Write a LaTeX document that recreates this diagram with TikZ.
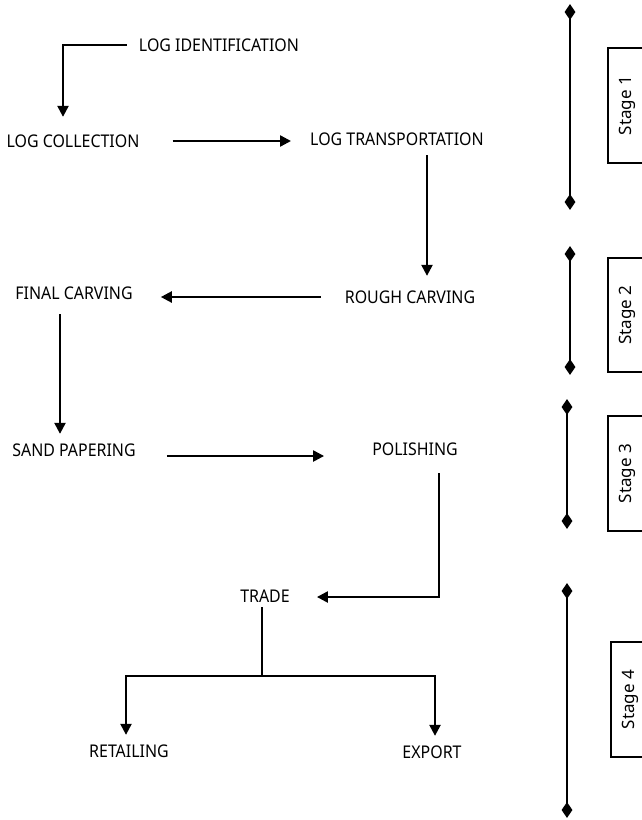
\documentclass[tikz,border=0pt]{standalone}
\usepackage{fontspec}
\setmainfont{Noto Sans}[FakeStretch=0.91]
\newfontfamily\stagefont{Noto Sans}
\usetikzlibrary{arrows.meta,shapes.geometric}

\tikzset{
  step label/.style={inner sep=0pt, text height=12.7pt, text depth=0pt,
    font=\fontsize{17.5}{17.5}\selectfont},
  flow/.style={line width=2.3pt, -{Triangle[length=11pt,width=11pt]}},
  plain link/.style={line width=2.3pt},
  bar end/.style={diamond, fill=black, inner sep=0pt,
    minimum width=11pt, minimum height=16pt},
  bar/.style={line width=2.3pt},
  stage box/.style={draw, line width=1.8pt, rotate=90, inner sep=0pt,
    minimum height=38pt, font=\stagefont\fontsize{17}{17}\selectfont}
}

\begin{document}
\begin{tikzpicture}[x=1pt, y=-1pt]
  \useasboundingbox (0,0) rectangle (642,820);

  % process steps
  \node[step label] (ident)  at (219,45)  {LOG IDENTIFICATION};
  \node[step label] (coll)   at (73,141)  {LOG COLLECTION};
  \node[step label] (trans)  at (397,139) {LOG TRANSPORTATION};
  \node[step label] (rough)  at (410,297) {ROUGH CARVING};
  \node[step label] (final)  at (74,293)  {FINAL CARVING};
  \node[step label] (sand)   at (74,450)  {SAND PAPERING};
  \node[step label] (polish) at (415,449) {POLISHING};
  \node[step label] (trade)  at (265,596) {TRADE};
  \node[step label] (retail) at (129,751) {RETAILING};
  \node[step label] (export) at (432,752) {EXPORT};

  % flow between the steps
  \draw[flow, shorten <=12pt, shorten >=17.6pt]
    (ident.west) -| ([xshift=-10pt]coll.north);
  \draw[flow, shorten <=33pt, shorten >=19pt]
    (coll.east) -- (coll.east -| trans.west);
  \draw[flow, shorten <=9.6pt, shorten >=14.6pt]
    ([xshift=30pt]trans.south) -- ([xshift=30pt]trans.south |- rough.north);
  \draw[flow, shorten <=24pt, shorten >=28pt]
    (rough.west) -- (rough.west -| final.east);
  \draw[flow, shorten <=14.6pt, shorten >=9.6pt]
    ([xshift=-14pt]final.south) -- ([xshift=-14pt]final.south |- sand.north);
  \draw[flow, shorten <=31pt, shorten >=48pt]
    ([yshift=-6pt]sand.east) -- ([yshift=-6pt]sand.east -| polish.west);
  \draw[flow, shorten <=17.6pt, shorten >=27pt]
    ([xshift=24pt]polish.south) |- ([yshift=-1pt]trade.east);

  % trade splits into two outlets
  \coordinate (split) at (262,676);
  \draw[plain link, shorten <=4.6pt] ([xshift=-3pt]trade.south) -- (split);
  \draw[flow, shorten >=9.6pt] (split) -| ([xshift=-3pt]retail.north);
  \draw[flow, shorten >=9.6pt] (split) -| ([xshift=3pt]export.north);

  % stage bars
  \node[bar end] (s1a) at (570,12)  {};
  \node[bar end] (s1b) at (570,202) {};
  \node[bar end] (s2a) at (570,254) {};
  \node[bar end] (s2b) at (570,367) {};
  \node[bar end] (s3a) at (567,407) {};
  \node[bar end] (s3b) at (567,521) {};
  \node[bar end] (s4a) at (567,591) {};
  \node[bar end] (s4b) at (567,810) {};
  \draw[bar] (s1a.center) -- (s1b.center);
  \draw[bar] (s2a.center) -- (s2b.center);
  \draw[bar] (s3a.center) -- (s3b.center);
  \draw[bar] (s4a.center) -- (s4b.center);

  % stage labels
  \node[stage box, minimum width=115pt] (st1) at (627,105.5) {Stage 1};
  \node[stage box, minimum width=114pt] (st2) at (627,315)   {Stage 2};
  \node[stage box, minimum width=115pt] (st3) at (627,473.5) {Stage 3};
  \node[stage box, minimum width=115pt] (st4) at (630,699.5) {Stage 4};
\end{tikzpicture}
\end{document}
